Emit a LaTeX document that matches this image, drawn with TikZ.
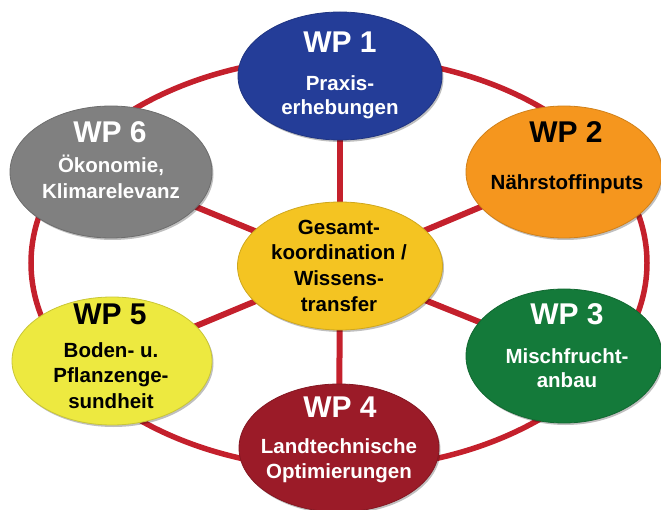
\documentclass[tikz,border=0pt]{standalone}
\usepackage{fontspec}
\setmainfont{Liberation Sans}
\usetikzlibrary{shapes.geometric,backgrounds,shadows}
\definecolor{cBlue}{RGB}{36,61,152}
\definecolor{cOrange}{RGB}{245,150,30}
\definecolor{cGreen}{RGB}{20,122,58}
\definecolor{cDarkRed}{RGB}{155,27,40}
\definecolor{cYellow}{RGB}{237,233,64}
\definecolor{cGray}{RGB}{128,128,128}
\definecolor{cCenter}{RGB}{244,196,34}
\definecolor{cRing}{RGB}{196,32,44}
\tikzset{
  blob/.style={ellipse, inner sep=0pt, fill=#1, draw=#1!85!black, line width=0.8pt,
    drop shadow={shadow xshift=1.5pt, shadow yshift=-2pt, fill=black, opacity=0.25}},
  ringline/.style={draw=cRing, line width=5.5pt},
  spoke/.style={draw=cRing, line width=6pt},
  wphead/.style={anchor=base, inner sep=0pt, font=\fontsize{30}{36}\selectfont\bfseries},
  wpsub/.style={anchor=base, inner sep=0pt, font=\fontsize{20.5}{25}\selectfont\bfseries},
}
\begin{document}
\begin{tikzpicture}[x=1pt,y=-1pt]
\useasboundingbox (0,0) rectangle (661,510);
\draw[ringline] (339,263) ellipse [x radius=308pt, y radius=206pt];

\node[blob=cCenter, minimum width=205pt, minimum height=128pt] (c) at (340,266) {};
\node[blob=cBlue, minimum width=204pt, minimum height=128pt] (wp1) at (340,76) {};
\node[blob=cOrange, minimum width=196pt, minimum height=132pt] (wp2) at (564,172) {};
\node[blob=cGreen, minimum width=196pt, minimum height=134pt] (wp3) at (564,356) {};
\node[blob=cDarkRed, minimum width=200pt, minimum height=128pt] (wp4) at (339,448) {};
\node[blob=cYellow, minimum width=200pt, minimum height=128pt] (wp5) at (112,361) {};
\node[blob=cGray, minimum width=202pt, minimum height=132pt] (wp6) at (111,172) {};

\begin{pgfonlayer}{background}
\foreach \n in {wp1,wp2,wp3,wp4,wp5,wp6}
  \draw[spoke] (c.center) -- (\n.center);
\end{pgfonlayer}

% WP 1
\node[wphead, text=white] (t1a) at (340,53) {WP 1};
\node[wpsub, text=white] (t1b) at (340,91) {Praxis-};
\node[wpsub, text=white] (t1c) at (340,115) {erhebungen};
% WP 2
\node[wphead, text=black] (t2a) at (566,143) {WP 2};
\node[wpsub, text=black] (t2b) at (567,190) {Nährstoffinputs};
% WP 3
\node[wphead, text=white] (t3a) at (567,325) {WP 3};
\node[wpsub, text=white] (t3b) at (567,363) {Mischfrucht-};
\node[wpsub, text=white] (t3c) at (567,388) {anbau};
% WP 4
\node[wphead, text=white] (t4a) at (340,417) {WP 4};
\node[wpsub, text=white] (t4b) at (339,453) {Landtechnische};
\node[wpsub, text=white] (t4c) at (339,478) {Optimierungen};
% WP 5
\node[wphead, text=black] (t5a) at (110,325) {WP 5};
\node[wpsub, text=black] (t5b) at (111,357) {Boden- u.};
\node[wpsub, text=black] (t5c) at (111,382) {Pflanzenge-};
\node[wpsub, text=black] (t5d) at (111,408) {sundheit};
% WP 6
\node[wphead, text=white] (t6a) at (110,143) {WP 6};
\node[wpsub, text=white] (t6b) at (111,173) {Ökonomie,};
\node[wpsub, text=white] (t6c) at (111,199) {Klimarelevanz};
% centre
\node[wpsub, text=black] (tca) at (339,235) {Gesamt-};
\node[wpsub, text=black] (tcb) at (339,260) {koordination /};
\node[wpsub, text=black] (tcc) at (339,286) {Wissens-};
\node[wpsub, text=black] (tcd) at (339,312) {transfer};
\end{tikzpicture}
\end{document}
